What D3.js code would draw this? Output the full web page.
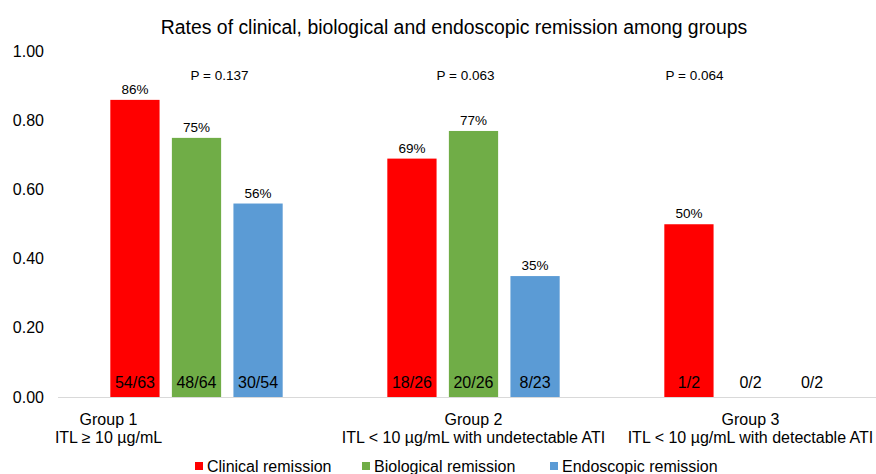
<!DOCTYPE html>
<html lang="en">
<head>
<meta charset="UTF-8">
<title>Rates of remission among groups</title>
<script src="https://d3js.org/d3.v7.min.js"></script>
<style>
    body { margin: 0; background: #fff; }
    svg text { font-family: "Liberation Sans", Arial, Helvetica, sans-serif; fill: #000; }
</style>
</head>
<body>
<div id="chart"></div>
<script>
    // data
    const groups = ["Group 1", "Group 2", "Group 3"];
    const groupSub = ["ITL \u2265 10 \u00b5g/mL", "ITL < 10 \u00b5g/mL with undetectable ATI", "ITL < 10 \u00b5g/mL with detectable ATI"];
    const seriesNames = ["Clinical remission", "Biological remission", "Endoscopic remission"];
    const clinical = [0.86, 0.69, 0.50];
    const biological = [0.75, 0.77, 0];
    const endoscopic = [0.56, 0.35, 0];
    const counts = [["54/63", "48/64", "30/54"], ["18/26", "20/26", "8/23"], ["1/2", "0/2", "0/2"]];
    const pValues = ["P = 0.137", "P = 0.063", "P = 0.064"];
    const yTicks = [0, 0.2, 0.4, 0.6, 0.8, 1.0];
    const colors = ["#ff0000", "#70ad47", "#5b9bd5"];

    const W = 876, H = 474;
    const plot = { left: 58, right: 889, top: 51.5, bottom: 397 };

    const svg = d3.select("#chart").append("svg")
        .attr("width", W).attr("height", H);

    const x = d3.scaleBand().domain(groups).range([plot.left, plot.right]);
    const xs = d3.scaleBand().domain(seriesNames).range([0, x.bandwidth()])
        .paddingInner(0.2).paddingOuter(0.85); // roughly matches Excel gap width
    const y = d3.scaleLinear().domain([0, 1]).range([plot.bottom, plot.top]);

    // title
    svg.append("text")
        .attr("x", 454).attr("y", 34)
        .attr("text-anchor", "middle")
        .style("font-size", "19.4px")
        .text("Rates of clinical, biological and endoscopic remission among groups");

    // y axis labels (no axis line in the original)
    svg.selectAll(".ytick").data(yTicks).enter().append("text")
        .attr("class", "ytick")
        .attr("x", 44).attr("y", d => y(d) + 5.5)
        .attr("text-anchor", "end")
        .style("font-size", "16px")
        .text(d => d3.format(".2f")(d));

    // baseline
    svg.append("line")
        .attr("x1", plot.left).attr("x2", W)
        .attr("y1", y(0) + 0.5).attr("y2", y(0) + 0.5)
        .attr("stroke", "#d9d9d9").attr("stroke-width", 1);

    const rows = groups.map((g, i) => ({
        group: g, i,
        vals: [clinical[i], biological[i], endoscopic[i]]
    }));

    const gg = svg.selectAll(".grp").data(rows).enter().append("g")
        .attr("class", "grp")
        .attr("transform", d => "translate(" + x(d.group) + ",0)");

    const bars = gg.selectAll(".bar")
        .data(d => d.vals.map((v, j) => ({ v, j, i: d.i, s: seriesNames[j] })))
        .enter();

    bars.filter(d => d.v > 0).append("rect")
        .attr("x", d => xs(d.s))
        .attr("width", xs.bandwidth())
        .attr("y", d => y(d.v))
        .attr("height", d => y(0) - y(d.v))
        .attr("fill", d => colors[d.j]);

    // percent labels on top
    bars.filter(d => d.v > 0).append("text")
        .attr("x", d => xs(d.s) + xs.bandwidth() / 2)
        .attr("y", d => y(d.v) - 6)
        .attr("text-anchor", "middle")
        .style("font-size", "13.5px")
        .text(d => Math.round(d.v * 100) + "%");

    // counts inside bars
    bars.append("text")
        .attr("x", d => xs(d.s) + xs.bandwidth() / 2)
        .attr("y", y(0) - 9)
        .attr("text-anchor", "middle")
        .style("font-size", "16px")
        .text(d => counts[d.i][d.j]);

    // p values (text boxes placed by hand in the original)
    const pOffset = [23, -8, -56];
    gg.append("text")
        .attr("x", d => x.bandwidth() / 2 + pOffset[d.i])
        .attr("y", 80)
        .attr("text-anchor", "middle")
        .style("font-size", "13.5px")
        .text(d => pValues[d.i]);

    // category labels
    const labOffset = [-88, 0, 0];
    const lab = gg.append("text")
        .attr("text-anchor", "middle")
        .style("font-size", "16px");
    lab.append("tspan")
        .attr("x", d => x.bandwidth() / 2 + labOffset[d.i]).attr("y", 425)
        .text(d => d.group);
    lab.append("tspan")
        .attr("x", d => x.bandwidth() / 2 + labOffset[d.i]).attr("y", 443)
        .text(d => groupSub[d.i]);

    // legend
    const legX = [195, 362, 550];
    const leg = svg.selectAll(".leg").data(seriesNames).enter().append("g")
        .attr("class", "leg")
        .attr("transform", (d, i) => "translate(" + legX[i] + ",466)");
    leg.append("rect")
        .attr("width", 8).attr("height", 8).attr("y", -4)
        .attr("fill", (d, i) => colors[i]);
    leg.append("text")
        .attr("x", 12).attr("y", 6)
        .style("font-size", "16px")
        .text(d => d);
</script>
</body>
</html>
